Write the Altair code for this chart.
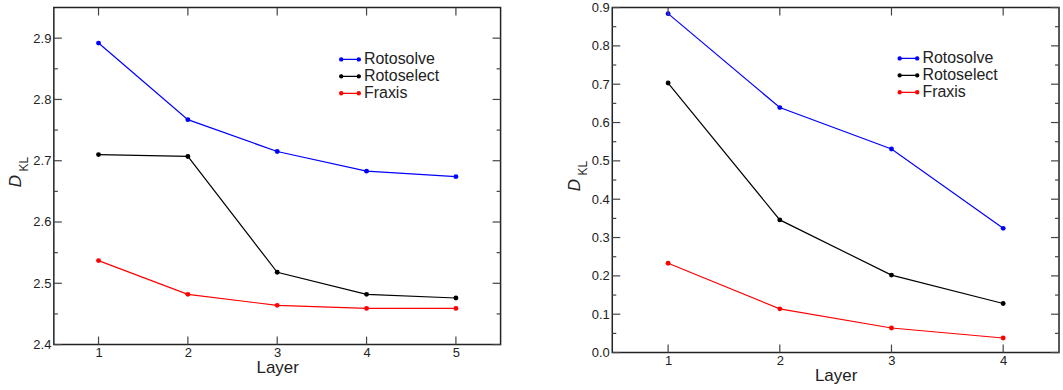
import altair as alt
import pandas as pd

# Series values per layer count
layers_a = [1, 2, 3, 4, 5]
rotosolve_a = [2.892, 2.767, 2.715, 2.683, 2.674]
rotoselect_a = [2.710, 2.707, 2.518, 2.482, 2.476]
fraxis_a = [2.537, 2.482, 2.464, 2.459, 2.459]

layers_b = [1, 2, 3, 4]
rotosolve_b = [0.884, 0.639, 0.531, 0.324]
rotoselect_b = [0.703, 0.346, 0.202, 0.128]
fraxis_b = [0.233, 0.114, 0.064, 0.038]

methods = ["Rotosolve", "Rotoselect", "Fraxis"]
colors = ["#0000ff", "#000000", "#ff0000"]

# Axis tick values
y_major_a = [2.4, 2.5, 2.6, 2.7, 2.8, 2.9]
y_minor_a = [2.45, 2.55, 2.65, 2.75, 2.85]
y_major_b = [0.0, 0.1, 0.2, 0.3, 0.4, 0.5, 0.6, 0.7, 0.8, 0.9]
y_minor_b = [0.05, 0.15, 0.25, 0.35, 0.45, 0.55, 0.65, 0.75, 0.85]

FONT = "Liberation Sans"
TEXT = "#222222"
TICK = "#444444"

# Legend glyph: short line with a dot at each end
GLYPH = ("M-1.1,0L1.1,0"
         "M-1.3,0a0.2,0.2 0 1,0 0.4,0a0.2,0.2 0 1,0 -0.4,0"
         "M0.9,0a0.2,0.2 0 1,0 0.4,0a0.2,0.2 0 1,0 -0.4,0")


def long_frame(layers, series):
    rows = []
    for name, vals in zip(methods, series):
        for x, v in zip(layers, vals):
            rows.append({"Layer": x, "value": v, "method": name})
    return pd.DataFrame(rows)


def panel(layers, series, x_dom, y_dom, y_major, y_minor, w, h, leg_y):
    df = long_frame(layers, series)
    xs = alt.Scale(domain=x_dom, nice=False, zero=False)
    ys = alt.Scale(domain=y_dom, nice=False, zero=False)

    # One axis definition per direction, shared by every layer so they merge cleanly
    ax_x = alt.Axis(values=layers, format="d", ticks=False, tickSize=0,
                    domain=False, grid=False, labelPadding=2, labelOverlap=False,
                    title="Layer", titlePadding=0)
    ax_y = alt.Axis(values=y_major, format=".1f", ticks=False, tickSize=0,
                    domain=False, grid=False, labelPadding=3,
                    labelOverlap=False, labelBound=False, title=None)

    lines = alt.Chart(df).mark_line(
        strokeWidth=1.2,
        point=alt.OverlayMarkDef(filled=True, size=24),
    ).encode(
        x=alt.X("Layer:Q", scale=xs, axis=ax_x, title="Layer"),
        y=alt.Y("value:Q", scale=ys, axis=ax_y, title=None),
        color=alt.Color("method:N",
                        scale=alt.Scale(domain=methods, range=colors),
                        legend=alt.Legend(title=None, orient="none",
                                          legendX=288, legendY=leg_y,
                                          symbolType=GLYPH, symbolSize=256,
                                          symbolStrokeWidth=1.2,
                                          labelFontSize=16, labelFont=FONT,
                                          labelColor=TEXT, labelOffset=5,
                                          rowPadding=0, padding=0)),
    )

    ymaj = pd.DataFrame({"v": y_major})
    ymin = pd.DataFrame({"v": y_minor})
    xmaj = pd.DataFrame({"v": layers})

    def yrule(d, x0, x1):
        return alt.Chart(d).mark_rule(color=TICK, strokeWidth=1.2).encode(
            y=alt.Y("v:Q", scale=ys, axis=ax_y, title=None),
            x=alt.value(x0), x2=alt.value(x1))

    def xrule(d, y0, y1):
        return alt.Chart(d).mark_rule(color=TICK, strokeWidth=1.2).encode(
            x=alt.X("v:Q", scale=xs, axis=ax_x, title="Layer"),
            y=alt.value(y0), y2=alt.value(y1))

    ticks = [
        yrule(ymaj, 0, 8), yrule(ymin, 0, 4),
        yrule(ymaj, w - 8, w), yrule(ymin, w - 4, w),
        xrule(xmaj, h - 8, h), xrule(xmaj, 0, 8),
    ]

    # Y title: italic D with subscript KL
    d_lbl = alt.Chart().mark_text(
        text="D", font=FONT, fontSize=17, fontStyle="italic", angle=270,
        color=TEXT, align="center", baseline="middle",
    ).encode(x=alt.value(-37.7), y=alt.value(h / 2 + 5))
    kl_lbl = alt.Chart().mark_text(
        text="KL", font=FONT, fontSize=12, angle=270,
        color=TEXT, align="center", baseline="middle",
    ).encode(x=alt.value(-29.7), y=alt.value(h / 2 - 12))

    return alt.layer(lines, *ticks, d_lbl, kl_lbl).properties(width=w, height=h)


left = panel(layers_a, [rotosolve_a, rotoselect_a, fraxis_a],
             [0.5, 5.5], [2.4, 2.95], y_major_a, y_minor_a, 448, 338, 43)
right = panel(layers_b, [rotosolve_b, rotoselect_b, fraxis_b],
              [0.5, 4.5], [0.0, 0.9], y_major_b, y_minor_b, 448, 346, 42)

chart = alt.hconcat(left, right, spacing=112, bounds="flush").resolve_scale(
    x="independent", y="independent", color="independent"
).resolve_legend(color="independent").properties(
    padding={"left": 6, "top": 0, "right": 2, "bottom": 2},
    background="white",
).configure_view(
    stroke="#222222", strokeWidth=1.5
).configure_axis(
    labelFont=FONT, labelFontSize=13, labelColor=TEXT,
    titleFont=FONT, titleFontSize=17, titleColor=TEXT, titleFontWeight="normal",
)

chart.save("out.html", embed_options={"renderer": "svg", "actions": False})
